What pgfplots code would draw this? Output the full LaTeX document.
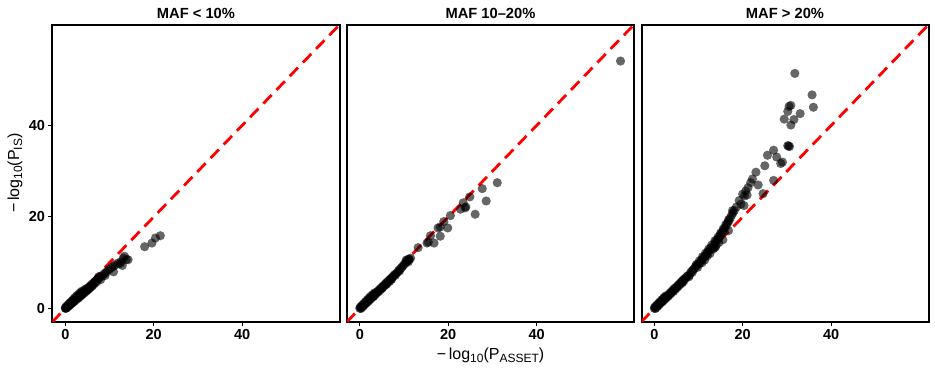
\documentclass[border=0pt]{standalone}
\usepackage{fontspec}
\setmainfont{Liberation Sans}
\usepackage{pgfplots}
\pgfplotsset{compat=1.18}

\newcommand{\sub}[1]{\raisebox{-0.35ex}{\fontsize{12}{13}\selectfont #1}}

\pgfplotsset{
  facet/.style={
    scale only axis, width=287pt, height=297pt,
    xmin=-2.9, xmax=62.05, ymin=-2.9, ymax=62.05,
    axis line style={line width=2pt},
    xtick={0,20,40}, xticklabels={0,20,40},
    tick align=outside, xtick pos=bottom, ytick pos=left,
    major tick length=4pt,
    tick style={black, line width=1pt},
    ticklabel style={font=\fontsize{14.5}{16}\selectfont\bfseries},
    title style={font=\fontsize{14.7}{16}\selectfont\bfseries, at={(0.5,1)}, anchor=base, yshift=0.5pt},
    anchor=south west,
  },
  pts/.style={only marks, mark=*, mark size=4.6pt, mark options={draw opacity=0, fill=black, fill opacity=0.6}},
  diag/.style={red, line width=2.8pt, dash pattern=on 12pt off 7pt, no marks},
}

\begin{document}
\begin{tikzpicture}
\useasboundingbox (0,0) rectangle (935pt,369pt);

% ---------------- Panel 1 ----------------
\begin{axis}[facet, at={(52.5pt,47.3pt)}, title={MAF < 10\%},
  ytick={0,20,40}, yticklabels={0,20,40},
  ylabel={−\,log\sub{10}(P\sub{IS})},
  ylabel style={font=\fontsize{16}{18}\selectfont, at={(axis description cs:-0.1307,0.5)}, anchor=center},
]
\addplot[pts] coordinates {
(0,0) (0.05,0.1) (0.15,0.1) (0.25,0.2) (0.35,0.3) (0.5,0.45) (0.65,0.55) (0.8,0.7) (0.95,0.85)
(1.1,1.0) (1.3,1.15) (1.5,1.35) (1.7,1.5) (1.9,1.7) (2.1,1.85) (2.3,2.05) (2.5,2.2) (2.7,2.4)
(2.9,2.55) (3.1,2.75) (3.3,2.9) (3.5,3.1) (3.7,3.25) (3.9,3.45) (4.1,3.6) (4.3,3.8) (4.6,4.0)
(4.9,4.3) (5.2,4.55) (5.5,4.8) (5.8,5.1) (6.1,5.35) (6.4,5.6) (6.7,5.9) (7.0,6.1) (7.3,6.4)
(7.6,6.6) (7.9,6.9) (8.3,7.1) (8.7,7.5) (9.1,7.8) (9.5,8.2) (9.9,8.5) (10.4,8.9) (10.9,9.2)
(10.9,8.0) (11.3,9.5) (12.4,9.8) (12.9,9.4) (13.4,11.4) (13.1,11.0) (14.2,10.65) (13.8,10.7)
(8.0,6.3) (9.0,7.2) (6.0,4.9) (5.0,4.1) (3.0,2.5) (2.0,1.65) (1.0,0.8) (7.5,6.9) (4.5,4.2)
(0.3,0.1) (0.6,0.4) (0.9,0.6) (1.2,0.9) (1.5,1.1) (1.8,1.4) (2.1,1.6) (2.4,1.9) (2.7,2.1)
(3.0,2.3) (3.3,2.6) (3.6,2.8) (3.9,3.1) (4.2,3.3) (4.5,3.6) (4.8,3.8) (5.1,4.1) (5.4,4.3)
(5.7,4.6) (6.2,5.0) (6.6,5.4) (7.1,5.8) (0.1,0.3) (0.4,0.6) (0.7,0.9) (1.0,1.2) (1.4,1.6)
(1.8,2.0) (2.2,2.4) (2.6,2.8) (3.0,3.1) (3.4,3.5) (3.8,3.8) (11.9,9.9) (12.6,10.2)
(17.96,13.5) (19.6,14.3) (20.4,15.4) (21.5,15.9)
};
\addplot[diag] coordinates {(-3,-3) (63,63)};
\end{axis}

% ---------------- Panel 2 ----------------
\begin{axis}[facet, at={(347pt,47.3pt)}, title={MAF 10–20\%},
  ytick=\empty,
  xlabel={−\,log\sub{10}(P\sub{ASSET})},
  xlabel style={font=\fontsize{16}{18}\selectfont, at={(axis description cs:0.5,0)}, anchor=center, yshift=-34pt},
]
\addplot[pts] coordinates {
(0,0) (0.2,0.2) (0.4,0.35) (0.6,0.55) (0.8,0.75) (1,0.95) (1.3,1.2) (1.6,1.5) (1.9,1.75)
(2.2,2.05) (2.5,2.3) (2.8,2.6) (3.1,2.9) (3.4,3.15) (3.7,3.45) (4,3.7) (4.3,4.0) (4.6,4.3)
(4.9,4.55) (5.2,4.85) (5.5,5.1) (5.8,5.4) (6.1,5.7) (6.4,5.95) (6.7,6.25) (7,6.5) (7.3,6.8)
(7.6,7.1) (7.9,7.4) (8.2,7.6) (8.5,7.9) (8.8,8.3) (9.1,8.6) (9.4,8.9) (9.7,9.2) (10,9.6)
(10.3,9.9) (10.6,10.3) (10.9,10.6) (11.2,10.8) (10.5,10.6) (11.0,10.2) (11.5,11.0) (9.0,8.2)
(8.0,7.2) (7.2,6.4) (5.0,4.4) (6.0,5.3) (3.0,2.6)
(0.3,0.0) (0.7,0.4) (1.1,0.8) (1.5,1.2) (1.9,1.5) (2.3,1.9) (2.7,2.3) (3.1,2.6) (3.5,3.0)
(3.9,3.4) (4.3,3.7) (4.7,4.1) (5.1,4.5) (5.5,4.9) (5.9,5.2) (6.3,5.6) (6.7,5.9) (7.1,6.3)
(0.1,0.3) (0.5,0.7) (0.9,1.1) (1.3,1.5) (1.7,1.9) (2.1,2.3) (2.5,2.7) (2.9,3.0) (3.3,3.4)
(10.8,10.4) (11.1,10.7)
(59.0,54.1) (31.1,27.5) (27.7,26.2) (28.6,23.5) (24.9,24.4) (23.4,23.1) (22.8,21.7) (23.8,22.0)
(24.0,22.2) (26.1,20.6) (20.5,20.3) (19.0,19.0) (19.9,17.6) (17.7,17.6) (18.2,17.8) (18.2,15.8)
(16.0,15.9) (15.2,14.3) (15.5,14.5) (16.8,14.3) (13.2,13.3)
};
\addplot[diag] coordinates {(-3,-3) (63,63)};
\end{axis}

% ---------------- Panel 3 ----------------
\begin{axis}[facet, at={(641.5pt,47.3pt)}, title={MAF > 20\%},
  ytick=\empty,
]
\addplot[pts] coordinates {
(0,0) (0.2,0.2) (0.4,0.4) (0.6,0.6) (0.8,0.75) (1,0.95) (1.3,1.25) (1.6,1.5) (1.9,1.8)
(2.2,2.1) (2.5,2.35) (2.8,2.65) (3.1,2.9) (3.4,3.2) (3.7,3.5) (4,3.8) (4.3,4.1) (4.6,4.4)
(4.9,4.6) (5.2,4.9) (5.5,5.2) (5.8,5.5) (6.1,5.8) (6.4,6.1) (6.7,6.4) (7,6.6) (7.3,6.9)
(7.6,7.2) (7.9,7.2) (8.2,7.8) (8.5,8.2) (8.8,8.5) (9.1,8.8) (9.4,9.2) (9.7,9.5) (10,9.8)
(10.3,9.9) (10.6,10.5) (10.9,10.8) (11.2,11.2) (11.5,11.4) (11.8,11.9) (12.1,12.3) (12.4,12.6)
(12.7,13.1) (13,13.4) (13.3,13.0) (13.6,14.0) (13.9,14.6) (14.2,14.9) (14.5,15.3) (14.8,15.8)
(15.1,16.3) (15.4,16.6) (15.7,17.2) (16,17.6) (16.3,18.2) (16.6,18.7) (16.9,19.2) (17.2,19.8)
(17.5,20.4) (17.8,20.9) (18.1,21.4) (12,11.5) (13.5,13.2) (14,13.8) (9.8,9.0) (8.6,7.9)
(7.8,6.9) (6.3,5.6) (10.8,10.0) (11.4,10.6) (15.5,15.0) (16.8,17.0)
(0.3,0.0) (0.7,0.4) (1.1,0.8) (1.5,1.2) (1.9,1.5) (2.3,1.9) (2.7,2.3) (3.1,2.6) (3.5,3.0)
(3.9,3.4) (4.3,3.7) (4.7,4.1) (5.1,4.5) (5.5,4.9) (5.9,5.3) (6.3,5.7) (6.7,6.0)
(0.1,0.3) (0.5,0.7) (0.9,1.1) (1.3,1.5) (1.7,1.9) (2.1,2.3) (2.5,2.7)
(9.5,9.6) (10.2,10.4) (10.9,11.3) (11.6,12.1) (12.3,13.0) (13.0,13.9) (13.7,14.8) (14.4,15.6)
(15.0,16.5) (15.6,17.4) (16.2,18.4) (16.8,19.4) (12.6,12.0) (13.8,13.4) (14.6,14.4)
(19.6,22.8) (20.3,22.5) (17.7,21.4) (20.7,25.7) (20.0,25.0) (21.0,24.8) (21.8,27.5) (22.2,28.3)
(23.5,27.0) (23.0,29.8) (24.6,25.1) (25.0,31.2) (25.6,33.5) (27.7,33.1) (27.0,34.6) (29.0,32.0)
(28.6,31.7) (27.0,28.0) (30.4,35.5) (30.6,35.4) (30.2,35.6) (30.5,44.2) (30.2,43.1) (33.0,42.6)
(31.6,41.3) (29.4,41.4) (30.9,40.1) (31.8,51.4) (35.7,46.7) (36.0,44.0) (30.9,44.4)
(21.2,26.4) (20.4,24.6) (19.2,23.6) (18.6,22.2)
};
\addplot[diag] coordinates {(-3,-3) (63,63)};
\end{axis}
\end{tikzpicture}
\end{document}
